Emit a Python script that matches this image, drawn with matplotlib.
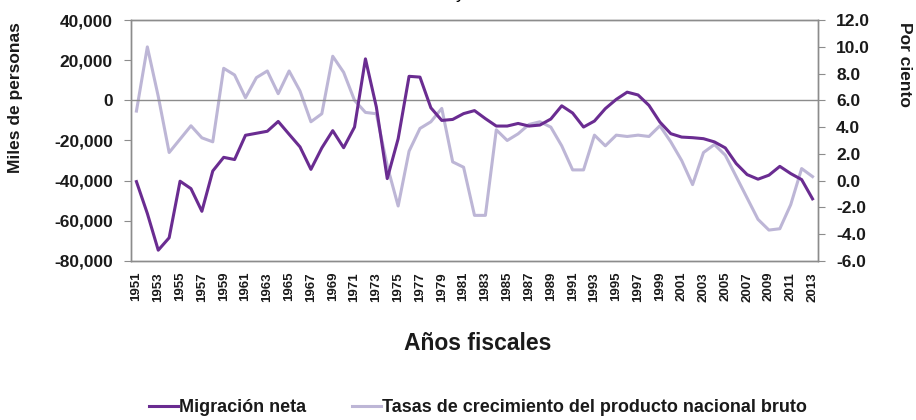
import matplotlib
matplotlib.use("Agg")
import matplotlib.pyplot as plt
from matplotlib.ticker import FuncFormatter

plt.rcParams['font.family'] = ['Liberation Sans', 'DejaVu Sans']

years = list(range(1951, 2014))

# migracion neta (miles de personas)
migracion = [-40500, -56400, -74700, -68500, -40300, -44000, -55300, -35200, -28400, -29500,
             -17400, -16400, -15400, -10500, -16900, -23200, -34400, -23700, -15100, -23600,
             -13300, 20700, -3300, -39000, -19100, 12000, 11600, -3700, -10000, -9500,
             -6600, -5100, -9100, -12800, -12800, -11500, -12800, -12300, -9300, -2700,
             -6300, -13300, -10300, -4100, 500, 4100, 2700, -2500, -10800, -16600,
             -18300, -18600, -19100, -20700, -23700, -31500, -37000, -39300, -37300, -32900,
             -36500, -39500, -49100]

# tasas de crecimiento del PNB (por ciento)
pnb = [5.2, 10.0, 6.3, 2.1, 3.1, 4.1, 3.2, 2.9, 8.4, 7.9,
       6.2, 7.7, 8.2, 6.5, 8.2, 6.7, 4.4, 5.0, 9.3, 8.1,
       6.0, 5.1, 5.0, 1.1, -1.9, 2.2, 3.9, 4.4, 5.4, 1.4,
       1.0, -2.6, -2.6, 3.8, 3.0, 3.5, 4.2, 4.4, 4.0, 2.6,
       0.8, 0.8, 3.4, 2.6, 3.4, 3.3, 3.4, 3.3, 4.1, 2.9,
       1.5, -0.3, 2.1, 2.7, 1.9, 0.3, -1.3, -2.9, -3.7, -3.6,
       -1.8, 0.9, 0.3]

purple = '#6a2c91'
lilac = '#bdb6d6'
gray = '#8c8c8c'
txt = '#1a1a1a'

fig = plt.figure(figsize=(9.16, 4.2), dpi=100)
ax = fig.add_axes([0.143, 0.379, 0.750, 0.573])
ax2 = ax.twinx()

ax2.plot(years, pnb, color=lilac, linewidth=2.2, zorder=2)
ax.plot(years, migracion, color=purple, linewidth=2.2, zorder=3)
ax.set_zorder(ax2.get_zorder() + 1)
ax.patch.set_visible(False)

ax.axhline(0, color=gray, linewidth=1, zorder=1)

ax.set_xlim(1950.5, 2013.5)
ax.set_ylim(-80000, 40000)
ax.set_yticks(range(-80000, 40001, 20000))
ax.yaxis.set_major_formatter(FuncFormatter(lambda v, p: f'{v:,.0f}'))
ax2.set_ylim(-6, 12)
ax2.set_yticks(range(-6, 13, 2))
ax2.yaxis.set_major_formatter(FuncFormatter(lambda v, p: f'{v:.1f}'))

ax.set_xticks(years[::2])
ax.set_xticklabels([str(y) for y in years[::2]], rotation=90, fontsize=9.5, fontweight='bold', color=txt)
ax.tick_params(axis='x', length=0, pad=8)
ax.tick_params(axis='y', colors=gray, length=5, labelcolor=txt, labelsize=12.5, pad=8)
ax2.tick_params(axis='y', colors=gray, length=5, labelcolor=txt, labelsize=12.5, pad=8)
for lab in ax.get_yticklabels() + ax2.get_yticklabels():
    lab.set_fontweight('bold')

for a in (ax, ax2):
    for s in a.spines.values():
        s.set_color(gray)
        s.set_linewidth(1)

fig.text(16 / 916, 1 - 22 / 420, 'Miles de personas', rotation=90, ha='center', va='top',
         fontsize=12.5, fontweight='bold', color=txt)
fig.text(905 / 916, 1 - 22 / 420, 'Por ciento', rotation=-90, ha='center', va='top',
         fontsize=12.5, fontweight='bold', color=txt)
fig.text(478 / 916, 1 - 343 / 420, 'Años fiscales', ha='center', va='center',
         fontsize=16.5, fontweight='bold', color=txt)

# title cut off at the top of the original image
fig.text(0.503, 1.0 + 2 / 420, 'y', ha='center', va='baseline', fontsize=13)

h1, = ax.plot([], [], color=purple, linewidth=2.2)
h2, = ax.plot([], [], color=lilac, linewidth=2.2)
fig.legend([h1, h2], ['Migración neta', 'Tasas de crecimiento del producto nacional bruto'],
           loc='center', bbox_to_anchor=(478 / 916, 1 - 408 / 420), ncol=2, frameon=False,
           handlelength=1.6, handletextpad=0.1, columnspacing=2.5,
           prop={'size': 13, 'weight': 'bold'}, labelcolor=txt)

fig.savefig('out.png', dpi=100)
